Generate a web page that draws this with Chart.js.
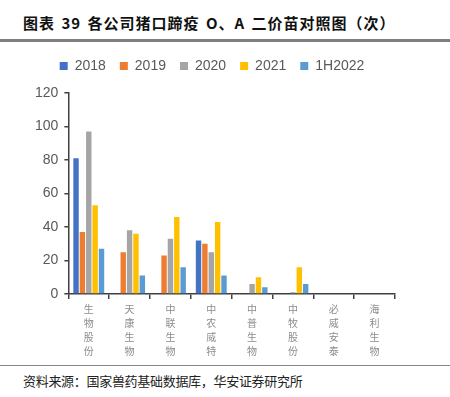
<!DOCTYPE html>
<html>
<head>
<meta charset="utf-8">
<script src="https://cdn.jsdelivr.net/npm/chart.js"></script>
<style>
  body { margin: 0; background: #fff; width: 450px; height: 397px; position: relative; overflow: hidden; font-family: "Noto Sans CJK SC", sans-serif; }
  #title { position: absolute; left: 23px; top: 12px; font-size: 15px; font-weight: bold; color: #111; letter-spacing: 1px; word-spacing: 2px; }
  #topline { position: absolute; left: 0; top: 39px; width: 450px; height: 3px; background: #7f7f7f; }
  #botline { position: absolute; left: 0; top: 365px; width: 450px; height: 1px; background: #888; }
  #source { position: absolute; left: 23px; top: 371px; font-size: 13px; color: #222; letter-spacing: -0.3px; }
  #wrap { position: absolute; left: 0; top: 45px; width: 420px; height: 316px; }
</style>
</head>
<body>
<div id="title">图表 39 各公司猪口蹄疫 O、A 二价苗对照图（次）</div>
<div id="topline"></div>
<div id="wrap"><canvas id="myChart"></canvas></div>
<div id="botline"></div>
<div id="source">资料来源：国家兽药基础数据库，华安证券研究所</div>
<script>
// 公司 (category labels)
const companies = ['生物股份', '天康生物', '中联生物', '中农威特', '中普生物', '中牧股份', '必威安泰', '海利生物'];
const seriesNames = ['2018', '2019', '2020', '2021', '1H2022'];
const colors = ['#4472c4', '#ed7d31', '#a5a5a5', '#ffc000', '#5b9bd5'];

const v2018 = [81, 0, 0, 32, 0, 0, 0, 0];
const v2019 = [37, 25, 23, 30, 0, 0, 0, 0];
const v2020 = [97, 38, 33, 25, 6, 1, 0, 0];
const v2021 = [53, 36, 46, 43, 10, 16, 0, 0];
const v1H2022 = [27, 11, 16, 11, 4, 6, 0, 0];

const yTicks = [0, 20, 40, 60, 80, 100, 120];

const allValues = [v2018, v2019, v2020, v2021, v1H2022];

// push plot area down a bit below the legend
const legendGap = {
    id: 'legendGap',
    beforeInit(chart) {
        const fit = chart.legend.fit;
        chart.legend.fit = function () {
            fit.bind(chart.legend)();
            this.height += 10;
        };
    }
};

const ctx = document.getElementById('myChart').getContext('2d');
new Chart(ctx, {
    type: 'bar',
    data: {
        // vertical text: one character per line
        labels: companies.map(c => c.split('')),
        datasets: seriesNames.map((name, i) => ({
            label: name,
            data: allValues[i],
            backgroundColor: colors[i],
            borderWidth: 0,
            categoryPercentage: 0.78,
            barPercentage: 0.85
        }))
    },
    options: {
        responsive: true,
        maintainAspectRatio: false,
        animation: false,
        layout: { padding: { left: 29, right: 25, top: 0, bottom: 0 } },
        plugins: {
            legend: {
                position: 'top',
                labels: {
                    boxWidth: 8,
                    boxHeight: 8,
                    padding: 14,
                    color: '#595959',
                    font: { family: 'Liberation Sans, Arial, sans-serif', size: 14 }
                }
            },
            tooltip: { enabled: false }
        },
        scales: {
            x: {
                grid: { display: true, drawOnChartArea: false, drawTicks: true, tickLength: 5, offset: true, color: '#404040', lineWidth: 1.5 },
                border: { display: true, color: '#404040', width: 1.5 },
                ticks: {
                    color: '#8c8c8c',
                    maxRotation: 0,
                    autoSkip: false,
                    font: { family: 'Noto Sans CJK SC', size: 10, lineHeight: 1.4 }
                }
            },
            y: {
                min: 0,
                max: 120,
                afterBuildTicks: axis => { axis.ticks = yTicks.map(v => ({ value: v })); },
                grid: { display: true, drawOnChartArea: false, drawTicks: true, tickLength: 4, color: '#404040', lineWidth: 1.5 },
                border: { display: true, color: '#404040', width: 1.5 },
                ticks: {
                    color: '#595959',
                    padding: 6,
                    font: { family: 'Liberation Sans, Arial, sans-serif', size: 14 }
                }
            }
        }
    },
    plugins: [legendGap]
});
</script>
</body>
</html>
